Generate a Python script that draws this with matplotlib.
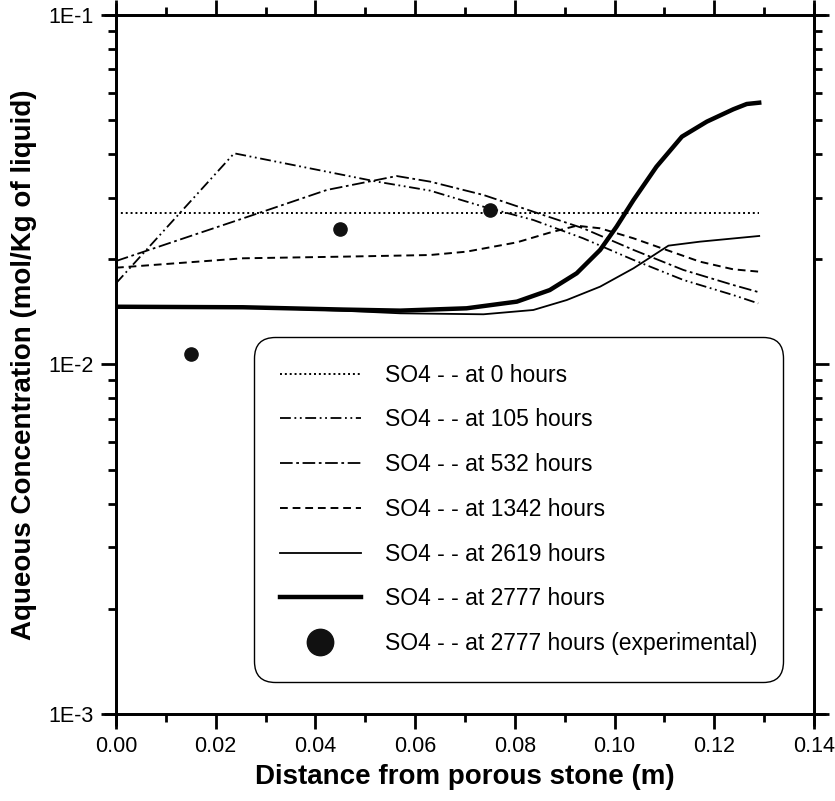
import matplotlib
matplotlib.use("Agg")
import matplotlib.pyplot as plt
from matplotlib.ticker import FixedLocator, LogLocator, FuncFormatter, NullFormatter

plt.rcParams['font.family'] = ['Liberation Sans', 'DejaVu Sans']

# Dati (distanza in m, concentrazione in mol/kg)
x_0h = [0.0, 0.129]
y_0h = [0.02706, 0.02706]

x_105h = [0.0, 0.0237, 0.0389, 0.0523, 0.063, 0.0737, 0.0837, 0.0937, 0.1038, 0.1138, 0.1238, 0.1288]
y_105h = [0.01707, 0.0402, 0.03641, 0.03336, 0.03144, 0.02828, 0.02591, 0.02296, 0.01991, 0.01745,
          0.01580, 0.01496]

x_532h = [0.0, 0.0255, 0.0423, 0.0563, 0.063, 0.0737, 0.0837, 0.0937, 0.1038, 0.1138, 0.1238, 0.129]
y_532h = [0.01977, 0.02619, 0.03158, 0.03461, 0.03336, 0.03055, 0.02736, 0.02453, 0.02127, 0.01864,
          0.01688, 0.01609]

x_1342h = [0.0, 0.0255, 0.0456, 0.063, 0.0703, 0.0804, 0.087, 0.0924, 0.0971, 0.1038, 0.1104, 0.1171,
           0.1238, 0.129]
y_1342h = [0.01892, 0.02013, 0.02035, 0.02057, 0.02103, 0.02236, 0.02384, 0.02495, 0.02453, 0.02296,
           0.02127, 0.01969, 0.01872, 0.01843]

x_2619h = [0.0, 0.0255, 0.0456, 0.057, 0.0737, 0.0837, 0.0904, 0.0971, 0.1038, 0.1108, 0.1171, 0.129]
y_2619h = [0.01463, 0.01458, 0.01425, 0.01401, 0.01392, 0.01432, 0.01529, 0.01670, 0.01885, 0.02188,
           0.02246, 0.02332]

x_2777h = [0.0, 0.0255, 0.0456, 0.057, 0.0703, 0.0804, 0.087, 0.0924, 0.0971, 0.1004, 0.1038, 0.1084,
           0.1135, 0.1185, 0.1238, 0.1265, 0.129]
y_2777h = [0.01463, 0.01458, 0.01436, 0.01426, 0.01448, 0.01513, 0.01633, 0.01824, 0.02127, 0.02480,
           0.02956, 0.03681, 0.04486, 0.04953, 0.05372, 0.05563, 0.05611]

x_exp = [0.015, 0.045, 0.075]
y_exp = [0.0107, 0.02436, 0.02767]

y_ticks = [1e-3, 1e-2, 1e-1]
y_tick_labels = ["1E-3", "1E-2", "1E-1"]

fig = plt.figure(figsize=(8.35, 8.01), dpi=100)
ax = fig.add_axes([0.1389, 0.1086, 0.836, 0.8727])

ax.plot(x_0h, y_0h, color='black', lw=1.4, linestyle=(0, (1, 1.5)), label='SO4 - - at 0 hours')
ax.plot(x_105h, y_105h, color='black', lw=1.3, linestyle=(0, (6, 2, 1, 2, 1, 2)), label='SO4 - - at 105 hours')
ax.plot(x_532h, y_532h, color='black', lw=1.3, linestyle=(0, (7, 2, 1.5, 2)), label='SO4 - - at 532 hours')
ax.plot(x_1342h, y_1342h, color='black', lw=1.4, linestyle=(0, (4, 2.5)), label='SO4 - - at 1342 hours')
ax.plot(x_2619h, y_2619h, color='black', lw=1.3, label='SO4 - - at 2619 hours')
ax.plot(x_2777h, y_2777h, color='black', lw=3.2, label='SO4 - - at 2777 hours')
ax.plot(x_exp, y_exp, 'o', color='#111111', markersize=9.5, linestyle='none',
        label='SO4 - - at 2777 hours (experimental)')

ax.set_yscale('log')
ax.set_xlim(0, 0.14)
ax.set_ylim(1e-3, 1e-1)

ax.set_xticks([0.0, 0.02, 0.04, 0.06, 0.08, 0.10, 0.12, 0.14])
ax.xaxis.set_major_formatter(FuncFormatter(lambda v, p: "%.2f" % v))
ax.set_xticks([0.01, 0.03, 0.05, 0.07, 0.09, 0.11, 0.13], minor=True)

ax.yaxis.set_major_locator(FixedLocator(y_ticks))
ax.set_yticklabels(y_tick_labels)
ax.yaxis.set_minor_locator(LogLocator(base=10, subs=range(2, 10)))
ax.yaxis.set_minor_formatter(NullFormatter())

ax.tick_params(which='both', direction='out', top=True, right=True, width=2, labelsize=15.5, color='black')
ax.tick_params(which='major', length=11, pad=5)
ax.tick_params(which='minor', length=6)

for s in ax.spines.values():
    s.set_linewidth(2)

# prolungamento degli assi oltre gli angoli (stile tecplot)
d = 0.017
for xs, ys in [([-d, 1 + d], [0, 0]), ([-d, 1 + d], [1, 1]), ([0, 0], [-d, 1 + d]), ([1, 1], [-d, 1 + d])]:
    ax.plot(xs, ys, color='black', lw=2, transform=ax.transAxes, clip_on=False, solid_capstyle='butt')

ax.set_xlabel('Distance from porous stone (m)', fontsize=20, fontweight='bold', labelpad=5)
ax.set_ylabel('Aqueous Concentration (mol/Kg of liquid)', fontsize=20, fontweight='bold', labelpad=8)

leg = ax.legend(loc='upper left', bbox_to_anchor=(0.1977, 0.539), fontsize=16.5, frameon=True, fancybox=True,
                handlelength=3.5, handletextpad=1.05, labelspacing=0.95, borderpad=1.15, borderaxespad=0,
                markerscale=2.0, framealpha=1)
leg.get_frame().set_edgecolor('black')
leg.get_frame().set_linewidth(1.0)
leg.get_frame().set_boxstyle('round', pad=0, rounding_size=0.9)

fig.savefig('out.png', dpi=100)
